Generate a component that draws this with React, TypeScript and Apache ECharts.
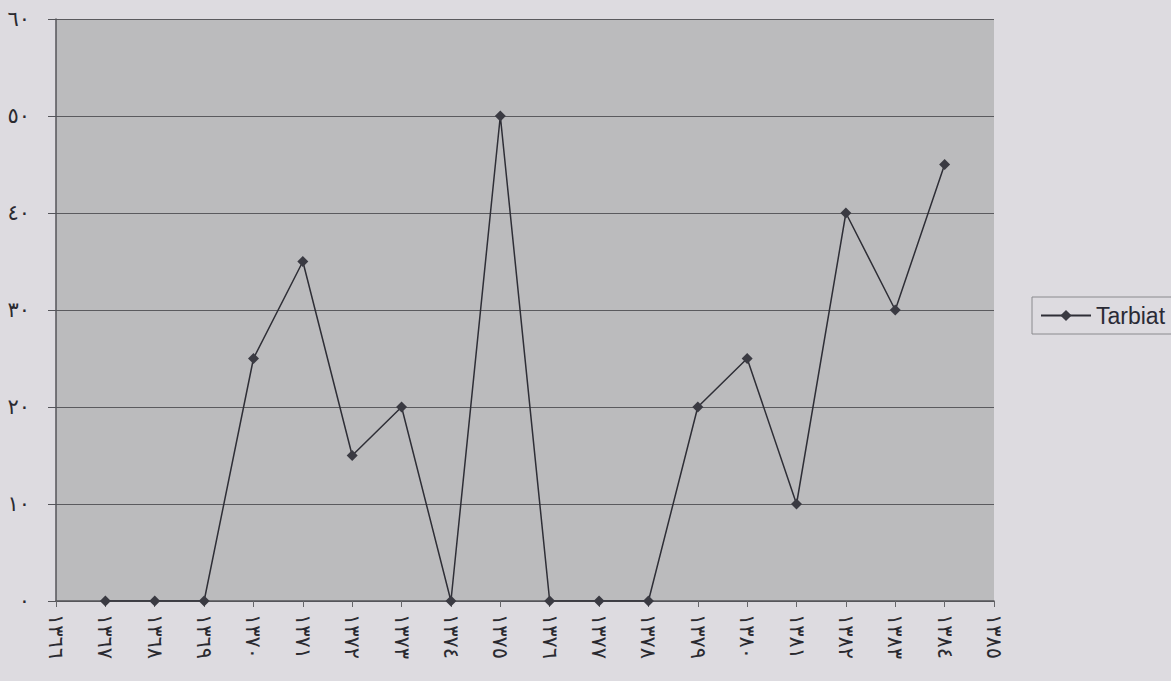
import React, { useEffect, useRef } from "react";
import * as echarts from "echarts";

const years = ["١٣٦٦","١٣٦٧","١٣٦٨","١٣٦٩","١٣٧٠","١٣٧١","١٣٧٢","١٣٧٣","١٣٧٤","١٣٧٥","١٣٧٦","١٣٧٧","١٣٧٨","١٣٧٩","١٣٨٠","١٣٨١","١٣٨٢","١٣٨٣","١٣٨٤","١٣٨٥"];
const tarbiat: (number | null)[] = [null, 0, 0, 0, 25, 35, 15, 20, 0, 50, 0, 0, 0, 20, 25, 10, 40, 30, 45, null];
const yTickLabels: Record<number, string> = { 0: "٠", 10: "١٠", 20: "٢٠", 30: "٣٠", 40: "٤٠", 50: "٥٠", 60: "٦٠" };

export default function App() {
  const ref = useRef<HTMLDivElement>(null);
  useEffect(() => {
    document.body.style.margin = "0";
    document.body.style.background = "#dddbe0";
    const chart = echarts.init(ref.current!, null, { renderer: "svg" });
    chart.setOption({
      animation: false,
      backgroundColor: "#dddbe0",
      grid: { left: 56, right: 177, top: 19, bottom: 80 },
      legend: {
        show: true,
        left: 1032,
        top: 297,
        orient: "vertical",
        borderColor: "#8a8a8e",
        borderWidth: 1,
        padding: [7, 30, 7, 8],
        itemWidth: 50,
        itemHeight: 14,
        itemGap: 4,
        textStyle: { fontFamily: "Liberation Sans, Arial", fontSize: 23, color: "#2a2a35" },
        data: ["Tarbiat"],
      },
      xAxis: {
        type: "category",
        data: years,
        boundaryGap: false,
        axisLine: { lineStyle: { color: "#55555a", width: 1.5 } },
        axisTick: { show: true, inside: false, length: 6, lineStyle: { color: "#66666a" } },
        axisLabel: {
          rotate: -90,
          interval: 0,
          margin: 13,
          fontSize: 21,
          fontFamily: "DejaVu Sans",
          color: "#2a2a30",
        },
        splitLine: { show: false },
      },
      yAxis: {
        type: "value",
        min: 0,
        max: 60,
        interval: 10,
        axisLine: { show: true, lineStyle: { color: "#55555a", width: 1.5 } },
        axisTick: { show: true, length: 8, lineStyle: { color: "#55555a" } },
        axisLabel: {
          margin: 26,
          fontSize: 21,
          fontFamily: "DejaVu Sans",
          color: "#2a2a30",
          formatter: (v: number) => yTickLabels[v] ?? String(v),
        },
        splitLine: { show: true, lineStyle: { color: "#5a5a5e", width: 1 } },
        splitArea: { show: true, areaStyle: { color: ["#bbbbbd", "#bbbbbd"] } },
      },
      series: [
        {
          name: "Tarbiat",
          type: "line",
          data: tarbiat,
          symbol: "diamond",
          symbolSize: 11,
          connectNulls: false,
          lineStyle: { color: "#2e2e36", width: 1.5 },
          itemStyle: { color: "#3a3a42" },
        },
      ],
    });
    return () => chart.dispose();
  }, []);
  return <div ref={ref} style={{ width: 1171, height: 681 }} />;
}
